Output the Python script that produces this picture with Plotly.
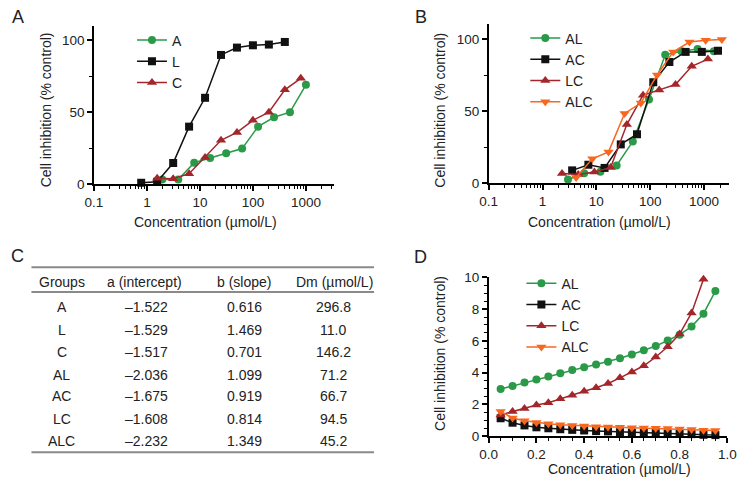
import plotly.graph_objects as go

W, H = 750, 486
FONT = "Arial, Liberation Sans, sans-serif"

GREEN = "#2b9a48"
BLACK = "#111111"
RED = "#a3262a"
ORANGE = "#f7671d"

# panel A: single agents
A_conc = [1.95, 3.9, 7.8, 15.6, 31.3, 62.5, 125, 250, 500, 1000]
A_inh = [3.4, 3.4, 15.0, 18.3, 21.5, 24.8, 40.0, 46.5, 50.0, 69.0]
L_conc = [0.78, 1.56, 3.13, 6.25, 12.5, 25, 50, 100, 200, 400]
L_inh = [1.1, 1.8, 14.8, 40.0, 60.0, 89.7, 94.8, 96.4, 96.9, 98.7]
C_conc = [1.56, 3.13, 6.25, 12.5, 25, 50, 100, 200, 400, 800]
C_inh = [4.3, 3.9, 7.4, 18.6, 30.5, 36.0, 44.4, 50.0, 65.5, 73.5]

# panel B: combinations
AL_conc = [2.97, 5.94, 11.9, 23.8, 47.5, 95, 190, 380, 760, 1520]
AL_inh = [2.7, 7.0, 8.0, 12.4, 29.0, 58.0, 89.0, 91.5, 93.0, 91.5]
AC_conc = [3.55, 7.1, 14.2, 28.4, 56.8, 114, 227, 455, 909, 1818]
AC_inh = [9.0, 12.9, 10.7, 27.0, 34.0, 70.0, 84.0, 91.0, 91.0, 91.8]
LC_conc = [2.3, 4.6, 9.2, 18.4, 36.8, 73.6, 147, 295, 590, 1180]
LC_inh = [6.9, 6.2, 7.8, 11.0, 40.7, 61.0, 64.7, 68.4, 81.0, 86.0]
ALC_conc = [4.2, 8.4, 16.8, 33.5, 67, 134, 268, 536, 1072, 2144]
ALC_inh = [4.0, 17.0, 21.8, 48.4, 55.6, 75.0, 91.0, 97.8, 99.0, 99.6]

# panel D: fa vs CI
fa = [0.05, 0.10, 0.15, 0.20, 0.25, 0.30, 0.35, 0.40, 0.45, 0.50,
      0.55, 0.60, 0.65, 0.70, 0.75, 0.80, 0.85, 0.90, 0.95]
ci_AL = [2.96, 3.16, 3.37, 3.57, 3.76, 3.96, 4.16, 4.33, 4.51, 4.69,
         4.90, 5.14, 5.41, 5.67, 6.02, 6.39, 6.90, 7.71, 9.14]
ci_AC = [1.12, 0.84, 0.67, 0.55, 0.49, 0.43, 0.39, 0.35, 0.31, 0.29,
         0.24, 0.22, 0.20, 0.18, 0.16, 0.14, 0.12, 0.08, 0.06]
ci_LC = [1.33, 1.55, 1.73, 1.96, 2.10, 2.35, 2.57, 2.82, 3.04, 3.31,
         3.67, 4.04, 4.43, 4.98, 5.63, 6.43, 7.76, 9.88]
ci_ALC = [1.55, 1.14, 0.96, 0.86, 0.78, 0.71, 0.67, 0.63, 0.59, 0.57,
          0.55, 0.53, 0.51, 0.49, 0.47, 0.45, 0.41, 0.37, 0.35]

# panel C: table
tbl_header = ["Groups", "a (intercept)", "b (slope)", "Dm (µmol/L)"]
tbl_groups = ["A", "L", "C", "AL", "AC", "LC", "ALC"]
tbl_a = ["–1.522", "–1.529", "–1.517", "–2.036", "–1.675", "–1.608", "–2.232"]
tbl_b = ["0.616", "1.469", "0.701", "1.099", "0.919", "0.814", "1.349"]
tbl_dm = ["296.8", "11.0", "146.2", "71.2", "66.7", "94.5", "45.2"]


def px2x(x):
    return x / W


def px2y(y):
    return 1 - y / H


def curve(x, y, name, color, symbol, xa, ya, legend, size=8):
    return go.Scatter(x=x, y=y, name=name, mode="lines+markers",
                      line=dict(color=color, width=1.5),
                      marker=dict(color=color, symbol=symbol, size=size),
                      xaxis=xa, yaxis=ya, legend=legend, cliponaxis=False)


fig = go.Figure()
fig.add_trace(curve(A_conc, A_inh, "A", GREEN, "circle", "x", "y", "legend"))
fig.add_trace(curve(L_conc, L_inh, "L", BLACK, "square", "x", "y", "legend"))
fig.add_trace(curve(C_conc, C_inh, "C", RED, "triangle-up", "x", "y", "legend", 9))

fig.add_trace(curve(AL_conc, AL_inh, "AL", GREEN, "circle", "x2", "y2", "legend2"))
fig.add_trace(curve(AC_conc, AC_inh, "AC", BLACK, "square", "x2", "y2", "legend2"))
fig.add_trace(curve(LC_conc, LC_inh, "LC", RED, "triangle-up", "x2", "y2", "legend2", 9))
fig.add_trace(curve(ALC_conc, ALC_inh, "ALC", ORANGE, "triangle-down", "x2", "y2", "legend2", 9))

fig.add_trace(curve(fa, ci_AL, "AL", GREEN, "circle", "x3", "y3", "legend3"))
fig.add_trace(curve(fa, ci_AC, "AC", BLACK, "square", "x3", "y3", "legend3"))
fig.add_trace(curve(fa[:len(ci_LC)], ci_LC, "LC", RED, "triangle-up", "x3", "y3", "legend3", 9))
fig.add_trace(curve(fa, ci_ALC, "ALC", ORANGE, "triangle-down", "x3", "y3", "legend3", 9))

axis_style = dict(showline=True, linecolor="black", linewidth=1.5,
                  ticks="outside", ticklen=5, tickwidth=1.5, tickcolor="black",
                  showgrid=False, zeroline=False,
                  tickfont=dict(family=FONT, size=13.5, color="#222"))
minor_style = dict(ticks="outside", ticklen=3, tickwidth=1, tickcolor="black")

log_minor = [m * d for d in [0.1, 1, 10, 100, 1000] for m in range(2, 10)]
log_major = [0.1, 1, 10, 100, 1000]
log_text = ["0.1", "1", "10", "100", "1000"]

fig.update_layout(
    width=W, height=H, margin=dict(l=0, r=0, t=0, b=0),
    paper_bgcolor="white", plot_bgcolor="white",
    font=dict(family=FONT, size=14, color="#222"),
    xaxis=dict(domain=[px2x(87), px2x(333)], anchor="y", type="log",
               range=[-1, 3.53], tickvals=log_major, ticktext=log_text,
               minor=dict(tickvals=log_minor, **minor_style), **axis_style),
    yaxis=dict(domain=[px2y(183), px2y(20)], anchor="x", range=[0, 109.5],
               tickvals=[0, 50, 100],
               minor=dict(tickvals=[25, 75], **minor_style), **axis_style),
    xaxis2=dict(domain=[px2x(491.5), px2x(737.5)], anchor="y2", type="log",
                range=[-1, 3.46], tickvals=log_major, ticktext=log_text,
                minor=dict(tickvals=log_minor, **minor_style), **axis_style),
    yaxis2=dict(domain=[px2y(182), px2y(18)], anchor="x2", range=[0, 110],
                tickvals=[0, 50, 100],
                minor=dict(tickvals=[25, 75], **minor_style), **axis_style),
    xaxis3=dict(domain=[px2x(491.5), px2x(736)], anchor="y3", range=[0, 1.0],
                dtick=0.2, tickformat=".1f",
                minor=dict(dtick=0.05, **minor_style), **axis_style),
    yaxis3=dict(domain=[px2y(442.7), px2y(279)], anchor="x3", range=[0, 10],
                dtick=2, minor=dict(dtick=0.5, **minor_style), **axis_style),
    legend=dict(x=px2x(126), y=px2y(18), xanchor="left", yanchor="top",
                bgcolor="rgba(0,0,0,0)", font=dict(size=14)),
    legend2=dict(x=px2x(529), y=px2y(16), xanchor="left", yanchor="top",
                 bgcolor="rgba(0,0,0,0)", font=dict(size=14)),
    legend3=dict(x=px2x(525), y=px2y(269), xanchor="left", yanchor="top",
                 bgcolor="rgba(0,0,0,0)", font=dict(size=14)),
)

ann = []


def label(x, y, text, size=14, angle=0):
    ann.append(dict(x=px2x(x), y=px2y(y), xref="paper", yref="paper",
                    text=text, showarrow=False, textangle=angle,
                    xanchor="center", yanchor="middle",
                    font=dict(family=FONT, size=size, color="#222")))


# panel letters
label(9, 10, "A", 18)
label(422, 10, "B", 18)
label(9, 257, "C", 18)
label(422, 258, "D", 18)

# axis titles
label(201, 222, "Concentration (µmol/L)")
label(605, 222, "Concentration (µmol/L)")
label(625, 477, "Concentration (µmol/L)")
label(37.5, 106, "Cell inhibition (% control)", angle=-90)
label(441.5, 106, "Cell inhibition (% control)", angle=-90)
label(441.5, 357, "Cell inhibition (% control)", angle=-90)

# table
col_x = [54, 139, 241, 333]
for cx, t in zip(col_x, tbl_header):
    label(cx, 284, t)
row_y = [309.3, 333, 356, 379.3, 401.7, 425, 447.7]
for ry, g, a, b, dm in zip(row_y, tbl_groups, tbl_a, tbl_b, tbl_dm):
    label(col_x[0], ry, g)
    label(col_x[1] + 2, ry, a)
    label(col_x[2], ry, b)
    label(col_x[3] - 1, ry, dm)

fig.update_layout(annotations=ann)

for yy in [268.5, 294, 459.5]:
    fig.add_shape(type="line", xref="paper", yref="paper",
                  x0=px2x(23), x1=px2x(374), y0=px2y(yy), y1=px2y(yy),
                  line=dict(color="#8a8a8a", width=2))

# drop the browser's default 8px body margin so the figure fills the window
fig.write_html("out.html", config={"displayModeBar": False},
               post_script="document.body.style.margin='0';document.body.style.overflow='hidden';")
